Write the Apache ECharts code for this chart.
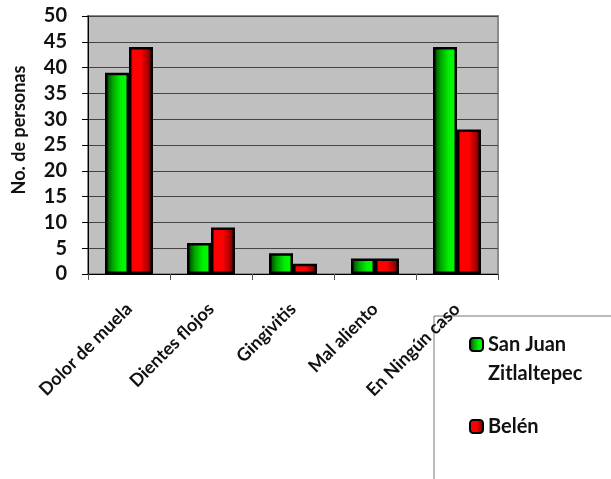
<!DOCTYPE html>
<html><head><meta charset="utf-8">
<script src="https://cdn.jsdelivr.net/npm/echarts@6/dist/echarts.min.js"></script>
<style>html,body{margin:0;padding:0;background:#fff}#c{width:611px;height:479px}</style>
</head><body><div id="c"></div>
<script>
var categories = ['Dolor de muela', 'Dientes flojos', 'Gingivitis', 'Mal aliento', 'En Ningún caso'];
var sanJuan = [39, 6, 4, 3, 44];
var belen = [44, 9, 2, 3, 28];
var yTicks = {min: 0, max: 50, interval: 5};
var seriesNames = ['San Juan\nZitlaltepec', 'Belén'];

var FONT = 'Lato';
var chart = echarts.init(document.getElementById('c'));
var greenGrad = new echarts.graphic.LinearGradient(0, 0, 1, 0, [
  {offset: 0, color: '#002800'}, {offset: 0.3, color: '#00a000'}, {offset: 0.65, color: '#00f000'}, {offset: 1, color: '#00ff00'}]);
var redGrad = new echarts.graphic.LinearGradient(0, 0, 1, 0, [
  {offset: 0, color: '#ff0000'}, {offset: 0.5, color: '#ff0000'}, {offset: 1, color: '#600000'}]);
chart.setOption({
  animation: false,
  textStyle: {fontFamily: FONT},
  grid: {left: 88, right: 113, top: 16, bottom: 205, containLabel: false, outerBoundsMode: 'none',
         show: true, backgroundColor: '#c0c0c0', borderColor: '#8a8a8a', borderWidth: 2},
  legend: {
    orient: 'vertical', left: 464, top: 296, itemWidth: 13, itemHeight: 13, itemGap: 24,
    textStyle: {fontFamily: FONT, fontWeight: 'bold', fontSize: 20, color: '#111', lineHeight: 29},
    itemStyle: {borderColor: '#000', borderWidth: 2},
    formatter: function (name) { return name === seriesNames[0] ? ' \n' + name : name; },
    data: seriesNames
  },
  xAxis: {
    type: 'category', data: categories,
    axisLine: {lineStyle: {color: '#000', width: 1}},
    axisTick: {show: true, length: 6, lineStyle: {color: '#555'}},
    axisLabel: {rotate: 45, margin: 32, fontFamily: FONT, fontWeight: 'bold', fontSize: 18, color: '#111', interval: 0}
  },
  yAxis: {
    type: 'value', min: yTicks.min, max: yTicks.max, interval: yTicks.interval,
    name: 'No. de personas', nameLocation: 'middle', nameGap: 60, nameRotate: 90,
    nameTextStyle: {fontFamily: FONT, fontWeight: 'bold', fontSize: 18, color: '#111', padding: [0, 0, 0, 30]},
    axisLine: {show: true, lineStyle: {color: '#000', width: 1}},
    axisTick: {show: true, length: 6, lineStyle: {color: '#000'}},
    axisLabel: {margin: 21, fontFamily: FONT, fontWeight: 'bold', fontSize: 20, color: '#111'},
    splitLine: {lineStyle: {color: '#444', width: 1}}
  },
  series: [
    {name: seriesNames[0], type: 'bar', data: sanJuan, barWidth: 24, barGap: '0%',
     itemStyle: {color: greenGrad, borderColor: '#000', borderWidth: 2.5}},
    {name: seriesNames[1], type: 'bar', data: belen, barWidth: 24,
     itemStyle: {color: redGrad, borderColor: '#000', borderWidth: 2.5}}
  ],
  graphic: [
    {type: 'polyline', silent: true, shape: {points: [[434, 479], [434, 316], [611, 316]]},
     style: {stroke: '#777', lineWidth: 1, fill: null}}
  ]
});
</script></body></html>
